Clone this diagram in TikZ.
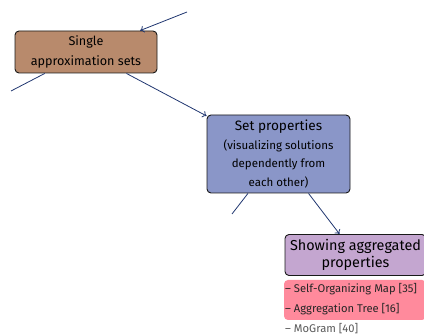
\documentclass[tikz,border=0pt]{standalone}
\usepackage{fontspec}
\setmainfont{Fira Sans}
\usetikzlibrary{arrows.meta}
\definecolor{linkblue}{RGB}{32,54,112}
\definecolor{brownbox}{RGB}{184,138,108}
\definecolor{bluebox}{RGB}{138,150,200}
\definecolor{purplebox}{RGB}{196,166,208}
\definecolor{pinkbox}{RGB}{255,138,156}
\begin{document}
\begin{tikzpicture}[x=1pt, y=-1pt,
    box/.style={draw=black!90, line width=0.9pt, rounded corners=4pt, align=center, inner sep=0pt},
    link/.style={linkblue, line width=0.8pt},
    tip/.style={-{To[length=4pt, width=7pt]}},
    item/.style={anchor=west, inner sep=0pt, font=\fontsize{11.2}{12}\selectfont}]
    \useasboundingbox (0,0) rectangle (424,336);

    \node[box, fill=brownbox, minimum width=142pt, minimum height=42pt,
          font=\fontsize{12.6}{19.5}\selectfont] (single) at (86,52) {Single\\approximation sets};
    \node[box, fill=bluebox, minimum width=143pt, minimum height=78pt,
          font=\fontsize{11.5}{18.5}\selectfont] (setprop) at (278.5,154)
          {\fontsize{13.6}{18.5}\selectfont Set properties\\(visualizing solutions\\dependently from\\each other)};
    \node[box, fill=purplebox, minimum width=141pt, minimum height=41pt,
          font=\fontsize{14.4}{17.5}\selectfont] (aggr) at (355.5,255) {Showing aggregated\\properties};

    % list below the last box
    \node[fill=pinkbox, rounded corners=4pt, minimum width=142pt, minimum height=40pt, inner sep=0pt] (hilite) at (355,300) {};
    \node[item, text=black!85] (som) at (285,289) {– Self-Organizing Map [35]};
    \node[item, text=black!85] (atree) at (285,309) {– Aggregation Tree [16]};
    \node[item, text=black!65] (mogram) at (285,329) {– MoGram [40]};

    \coordinate (top) at (187,12);
    \coordinate (left1) at (11,91);
    \coordinate (left2) at (232,214);

    \draw[link, tip] (top) -- (single);
    \draw[link] (single) -- (left1);
    \draw[link, tip] (single) -- (setprop);
    \draw[link] (setprop) -- (left2);
    \draw[link, tip] (setprop) -- (aggr);
\end{tikzpicture}
\end{document}
